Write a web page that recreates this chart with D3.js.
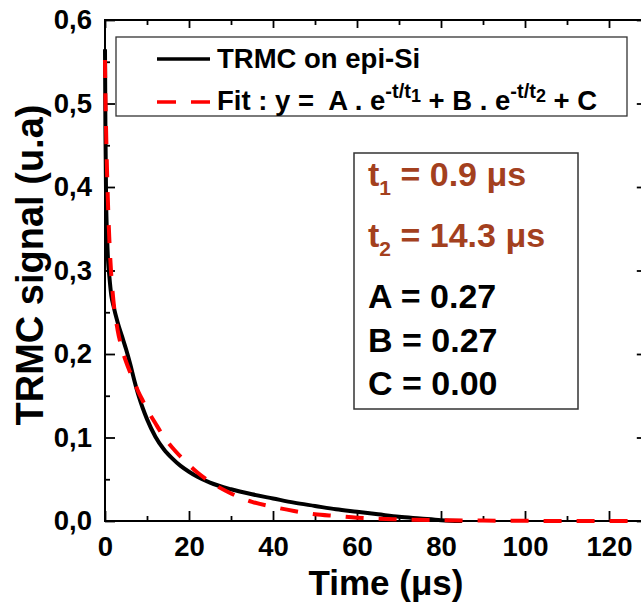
<!DOCTYPE html>
<html>
<head>
<meta charset="utf-8">
<script src="https://cdn.jsdelivr.net/npm/d3@7"></script>
<style>
  html, body { margin: 0; padding: 0; background: #fff; }
  svg { display: block; }
  text { font-family: "Liberation Sans", Arial, Helvetica, sans-serif; font-weight: bold; white-space: pre; }
</style>
</head>
<body>
<script>
// ---------------- data ----------------
const trmcTime  = [0, 0.1, 0.25, 0.5, 0.75, 1, 1.5, 2, 3, 4, 5, 6, 7, 8, 9, 10, 12, 14, 16, 18, 20, 22, 25, 30, 35, 40, 45, 50, 55, 60, 65, 70, 75, 80, 85];
const trmcValue = [0.565, 0.47, 0.39, 0.34, 0.31, 0.295, 0.27, 0.258, 0.238, 0.222, 0.206, 0.188, 0.168, 0.15, 0.135, 0.122, 0.101, 0.086, 0.075, 0.066, 0.059, 0.053, 0.046, 0.038, 0.032, 0.027, 0.022, 0.018, 0.014, 0.011, 0.008, 0.005, 0.003, 0.001, 0.0];

const fitTime  = [0, 0.1, 0.25, 0.5, 0.75, 1, 1.5, 2, 3, 4, 5, 6, 7, 8, 9, 10, 12, 14, 16, 18, 20, 22, 25, 30, 35, 40, 45, 50, 55, 60, 70, 80, 90, 100, 110, 120, 130];
const fitValue = [0.552, 0.51, 0.47, 0.416, 0.374, 0.341, 0.294, 0.264, 0.229, 0.207, 0.191, 0.178, 0.166, 0.154, 0.144, 0.134, 0.117, 0.101, 0.088, 0.077, 0.067, 0.058, 0.047, 0.033, 0.023, 0.017, 0.012, 0.008, 0.006, 0.004, 0.002, 0.001, 0.0005, 0.0002, 0.0001, 0.0, 0.0];

const xTicks = [0, 20, 40, 60, 80, 100, 120];
const xMinorTicks = [10, 30, 50, 70, 90, 110];
const yTicks = [0, 0.1, 0.2, 0.3, 0.4, 0.5, 0.6];
const yTickLabels = ["0,0", "0,1", "0,2", "0,3", "0,4", "0,5", "0,6"];
const yMinorTicks = [0.05, 0.15, 0.25, 0.35, 0.45, 0.55];

const seriesNames = ["TRMC on epi-Si", "Fit"];
const paramLines = [
  { name: "t", sub: "1", rest: " = 0.9 \u03BCs", color: "#A3401E" },
  { name: "t", sub: "2", rest: " = 14.3 \u03BCs", color: "#A3401E" },
  { name: "A", sub: "", rest: " = 0.27", color: "#000" },
  { name: "B", sub: "", rest: " = 0.27", color: "#000" },
  { name: "C", sub: "", rest: " = 0.00", color: "#000" }
];

// ---------------- layout ----------------
const W = 641, H = 605;
const svg = d3.select("body").append("svg").attr("width", W).attr("height", H);

const x = d3.scaleLinear().domain([0, 120]).range([105, 609]);
const y = d3.scaleLinear().domain([0, 0.6]).range([521, 20]);
const xEnd = 129;               // axis frame continues past the visible edge
const pLeft = x(0), pRight = x(xEnd), pTop = y(0.6), pBottom = y(0);

const fontStack = '"Liberation Sans", Arial, Helvetica, sans-serif';

function styleAxis(g, fs) {
  g.select(".domain").remove();
  g.selectAll(".tick line").attr("stroke", "#000").attr("stroke-width", 1.8);
  g.selectAll(".tick text")
    .attr("font-family", fontStack).attr("font-weight", "bold")
    .attr("font-size", fs).attr("fill", "#000");
}

// bottom axis
svg.append("g").attr("transform", `translate(0,${pBottom})`)
  .call(d3.axisBottom(x).tickValues(xTicks).tickSize(-10).tickPadding(15).tickFormat(d3.format("d")))
  .call(g => styleAxis(g, 27.5));
svg.append("g").attr("transform", `translate(0,${pBottom})`)
  .call(d3.axisBottom(x).tickValues(xMinorTicks).tickSize(-5).tickFormat(""))
  .call(g => styleAxis(g, 27));
// top axis
svg.append("g").attr("transform", `translate(0,${pTop})`)
  .call(d3.axisTop(x).tickValues(xTicks).tickSize(-8).tickFormat(""))
  .call(g => styleAxis(g, 27));
svg.append("g").attr("transform", `translate(0,${pTop})`)
  .call(d3.axisTop(x).tickValues(xMinorTicks).tickSize(-5).tickFormat(""))
  .call(g => styleAxis(g, 27));
// left axis
svg.append("g").attr("transform", `translate(${pLeft},0)`)
  .call(d3.axisLeft(y).tickValues(yTicks).tickSize(-10).tickPadding(13)
    .tickFormat((d, i) => yTickLabels[i]))
  .call(g => styleAxis(g, 27.5));
svg.append("g").attr("transform", `translate(${pLeft},0)`)
  .call(d3.axisLeft(y).tickValues(yMinorTicks).tickSize(-5).tickFormat(""))
  .call(g => styleAxis(g, 27));
// right axis
svg.append("g").attr("transform", `translate(${pRight},0)`)
  .call(d3.axisRight(y).tickValues(yTicks).tickSize(-10).tickFormat(""))
  .call(g => styleAxis(g, 27));
svg.append("g").attr("transform", `translate(${pRight},0)`)
  .call(d3.axisRight(y).tickValues(yMinorTicks).tickSize(-5).tickFormat(""))
  .call(g => styleAxis(g, 27));

// frame
svg.append("rect").attr("x", pLeft).attr("y", pTop)
  .attr("width", pRight - pLeft).attr("height", pBottom - pTop)
  .attr("fill", "none").attr("stroke", "#000").attr("stroke-width", 2);

// ---------------- lines ----------------
const line = d3.line().x(d => x(d[0])).y(d => y(d[1])).curve(d3.curveMonotoneX);
const trmcData = trmcTime.map((t, i) => [t, trmcValue[i]]);
const fitData = fitTime.map((t, i) => [t, fitValue[i]]);

svg.append("path").datum(trmcData).attr("d", line)
  .attr("fill", "none").attr("stroke", "#000").attr("stroke-width", 4)
  .attr("stroke-linejoin", "round");
svg.append("path").datum(fitData).attr("d", line)
  .attr("fill", "none").attr("stroke", "#F00").attr("stroke-width", 4)
  .attr("stroke-dasharray", "18,15");

// ---------------- axis titles ----------------
svg.append("text").attr("x", 386).attr("y", 595).attr("text-anchor", "middle")
  .attr("font-size", 35).text("Time (\u03BCs)");
svg.append("text").attr("transform", "translate(43,265) rotate(-90)")
  .attr("text-anchor", "middle").attr("font-size", 38).text("TRMC signal (u.a)");

// ---------------- legend ----------------
const lg = svg.append("g");
lg.append("rect").attr("x", 116).attr("y", 37).attr("width", 511).attr("height", 79)
  .attr("fill", "#fff").attr("stroke", "#333").attr("stroke-width", 1.3);
lg.append("line").attr("x1", 157).attr("x2", 210).attr("y1", 59).attr("y2", 59)
  .attr("stroke", "#000").attr("stroke-width", 3.5);
lg.append("text").attr("x", 217).attr("y", 68).attr("font-size", 27.5).text(seriesNames[0]);
lg.append("line").attr("x1", 157).attr("x2", 210).attr("y1", 102).attr("y2", 102)
  .attr("stroke", "#F00").attr("stroke-width", 3.5).attr("stroke-dasharray", "19,15");
const ft = lg.append("text").attr("x", 217).attr("y", 110).attr("font-size", 27.5);
ft.append("tspan").text(seriesNames[1] + " : y =  A . e");
ft.append("tspan").attr("font-size", 20).attr("dy", -12).text("-t/t");
ft.append("tspan").attr("font-size", 18).attr("dy", 4).text("1");
ft.append("tspan").attr("dy", 8).text(" + B . e");
ft.append("tspan").attr("font-size", 20).attr("dy", -12).text("-t/t");
ft.append("tspan").attr("font-size", 18).attr("dy", 4).text("2");
ft.append("tspan").attr("dy", 8).text(" + C");

// ---------------- parameter box ----------------
const pb = svg.append("g");
pb.append("rect").attr("x", 354).attr("y", 153).attr("width", 224).attr("height", 256)
  .attr("fill", "#fff").attr("stroke", "#333").attr("stroke-width", 1.5);
const baselines = [186, 247, 308, 352, 395];
paramLines.forEach((p, i) => {
  const t = pb.append("text").attr("x", 368).attr("y", baselines[i])
    .attr("font-size", 34).attr("fill", p.color);
  t.append("tspan").text(p.name);
  if (p.sub) {
    t.append("tspan").attr("font-size", 21).attr("dy", 9).text(p.sub);
    t.append("tspan").attr("dy", -9).text(p.rest);
  } else {
    t.append("tspan").text(p.rest);
  }
});
</script>
</body>
</html>
